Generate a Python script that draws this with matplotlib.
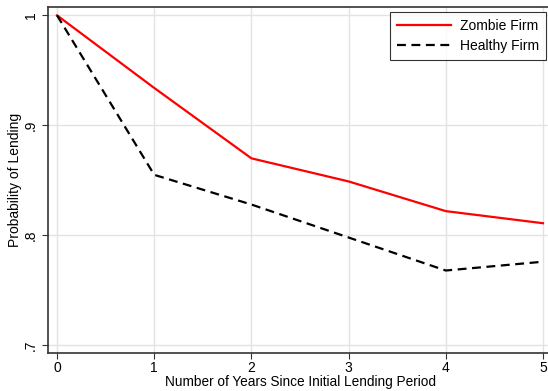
import matplotlib.pyplot as plt

plt.rcParams['font.family'] = ['Liberation Sans', 'DejaVu Sans']

years = [0, 1, 2, 3, 4, 5]
zombie = [1.0, 0.934, 0.870, 0.849, 0.822, 0.811]
healthy = [1.0, 0.855, 0.828, 0.798, 0.768, 0.776]
yticks = [0.7, 0.8, 0.9, 1.0]
ytick_labels = ['.7', '.8', '.9', '1']

fig = plt.figure(figsize=(5.48, 3.91), dpi=100)
ax = fig.add_axes([0.0876, 0.0972, 0.921, 0.886])

ax.plot(years, zombie, color='red', lw=1.6, label='Zombie Firm')
ax.plot(years, healthy, color='black', lw=1.6, ls=(0, (4, 2.5)), label='Healthy Firm')

ax.set_xlim(-0.093, 5.1)
ax.set_ylim(0.693, 1.008)
ax.set_xticks(years)
ax.set_yticks(yticks)
ax.set_yticklabels(ytick_labels, rotation=90, va='center')
ax.tick_params(axis='both', labelsize=10, length=4, width=0.8, color='#333333')
ax.tick_params(axis='x', pad=1.5)
ax.grid(True, color='#e3e3e3', lw=1)
ax.set_axisbelow(True)

for s in ['left', 'bottom', 'top']:
    ax.spines[s].set_color('#333333')
    ax.spines[s].set_linewidth(1.2)
ax.spines['right'].set_visible(False)

ax.set_xlabel('Number of Years Since Initial Lending Period', fontsize=9.8, labelpad=0.5)
ax.set_ylabel('Probability of Lending', fontsize=10, labelpad=1)

leg = ax.legend(loc='upper right', bbox_to_anchor=(0.9945, 0.996), fontsize=10,
                frameon=True, fancybox=False, edgecolor='black', handlelength=3.9,
                handletextpad=0.65, borderpad=0.5, borderaxespad=0.3, labelspacing=0.45)
leg.get_frame().set_linewidth(0.8)

fig.savefig('out.png', dpi=100)
